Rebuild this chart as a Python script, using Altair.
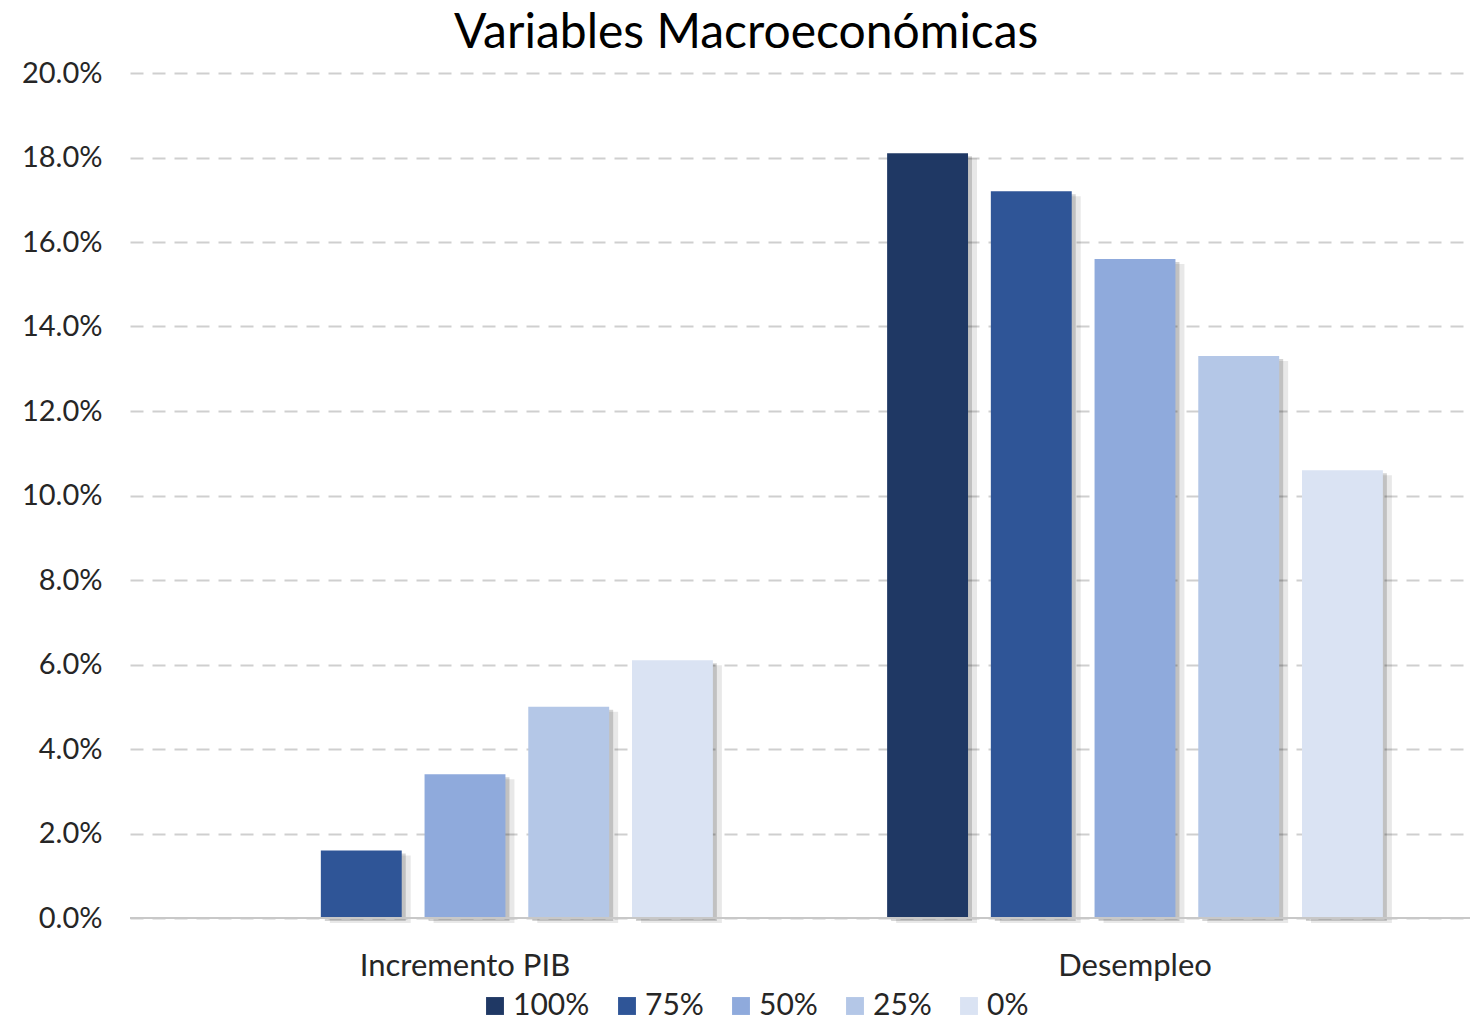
import altair as alt
import pandas as pd

categories = ["Incremento PIB", "Desempleo"]
series = ["100%", "75%", "50%", "25%", "0%"]
pib_values = [None, 0.016, 0.034, 0.050, 0.061]
desempleo_values = [0.181, 0.172, 0.156, 0.133, 0.106]
colors = ["#1F3864", "#2F5597", "#8FAADC", "#B4C7E7", "#DAE3F3"]
y_ticks = [0.0, 0.02, 0.04, 0.06, 0.08, 0.10, 0.12, 0.14, 0.16, 0.18, 0.20]

rows = []
for s, v in zip(series, pib_values):
    if v is not None:
        rows.append({"cat": categories[0], "serie": s, "valor": v})
for s, v in zip(series, desempleo_values):
    rows.append({"cat": categories[1], "serie": s, "valor": v})
df = pd.DataFrame(rows)

FONT = "Lato"
TXT = "#262626"
W = 1340
BAND = W / 2

x_enc = alt.X("cat:N", sort=categories, scale=alt.Scale(paddingInner=0, paddingOuter=0),
              axis=alt.Axis(title=None, labelAngle=0, labelFontSize=31, labelFont=FONT,
                            labelColor=TXT, labelPadding=33, labelLimit=0, ticks=False,
                            domain=False))
y_enc = alt.Y("valor:Q", scale=alt.Scale(domain=[0, 0.2], nice=False),
              axis=alt.Axis(title=None, format=".1%", values=y_ticks, labelFontSize=29,
                            labelFont=FONT, labelColor=TXT, labelPadding=28, ticks=False,
                            domain=False, grid=True, gridColor="#CFCFCF", gridDash=[13, 9],
                            gridWidth=2))


def xo(shift):
    if shift == 0:
        return alt.XOffset("serie:N", sort=series,
                           scale=alt.Scale(paddingInner=0.22, paddingOuter=0.84))
    return alt.XOffset("serie:N", sort=series,
                       scale=alt.Scale(paddingInner=0.22, paddingOuter=0.84,
                                       range=[shift, BAND + shift]))


shadow1 = alt.Chart(df).mark_bar(color="#000000", opacity=0.17, yOffset=3, y2Offset=0).encode(
    x=x_enc, xOffset=xo(4), y=y_enc)
shadow2 = alt.Chart(df).mark_bar(color="#000000", opacity=0.09, yOffset=5, y2Offset=0).encode(
    x=x_enc, xOffset=xo(9), y=y_enc)

bars = alt.Chart(df).mark_bar().encode(
    x=x_enc, xOffset=xo(0), y=y_enc,
    color=alt.Color("serie:N", sort=series, scale=alt.Scale(domain=series, range=colors),
                    legend=alt.Legend(title=None, orient="none", direction="horizontal",
                                      legendX=350, legendY=918, symbolType="square",
                                      symbolSize=320, symbolStrokeWidth=0, labelFontSize=30,
                                      labelFont=FONT, labelColor=TXT, columnPadding=22,
                                      labelOffset=3)))

baseline = alt.Chart(pd.DataFrame({"y": [0.0]})).mark_rule(color="#C8C8C8", strokeWidth=2).encode(
    y=alt.Y("y:Q", scale=alt.Scale(domain=[0, 0.2])))

chart = alt.layer(shadow2, shadow1, bars, baseline).resolve_scale(xOffset="independent").properties(
    width=W, height=845,
    title=alt.Title("Variables Macroeconómicas", fontSize=48, font=FONT, fontWeight="normal",
                    color="#000000", anchor="middle", frame="bounds", offset=1),
    autosize=alt.AutoSizeParams(type="none"),
    padding={"left": 122, "top": 65, "right": 0, "bottom": 102},
).configure_view(stroke=None)

chart.save("out.html", embed_options={"renderer": "svg", "actions": False})
